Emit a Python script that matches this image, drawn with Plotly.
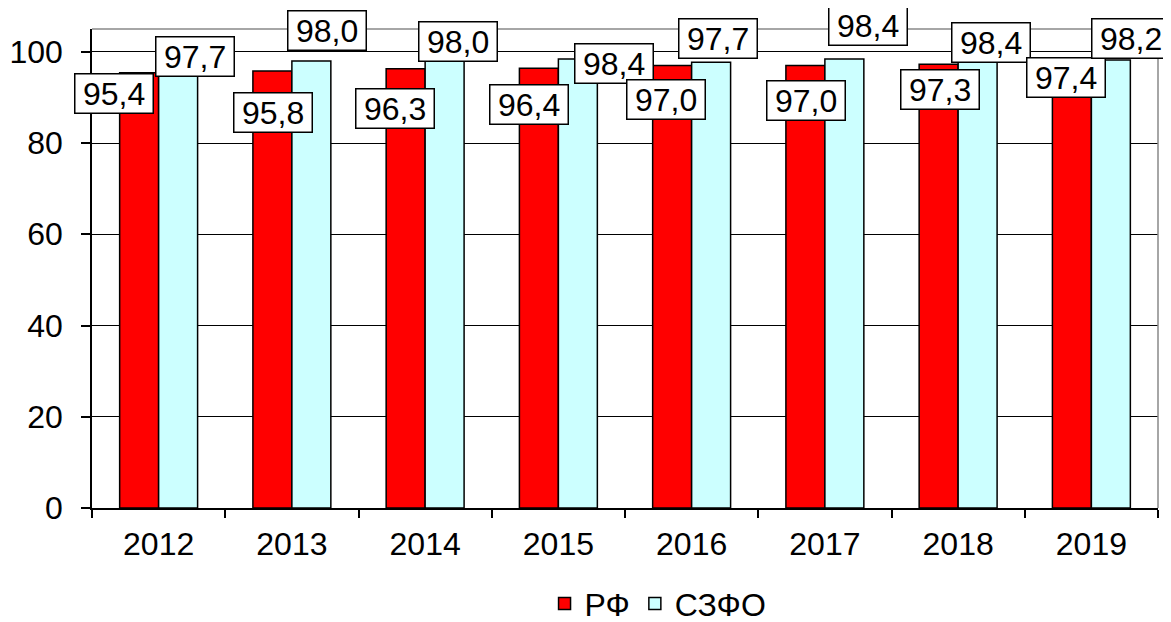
import plotly.graph_objects as go

years = ["2012", "2013", "2014", "2015", "2016", "2017", "2018", "2019"]
rf = [95.4, 95.8, 96.3, 96.4, 97.0, 97.0, 97.3, 97.4]
szfo = [97.7, 98.0, 98.0, 98.4, 97.7, 98.4, 98.4, 98.2]
series_names = ["РФ", "СЗФО"]
y_ticks = [0, 20, 40, 60, 80, 100]

# label box offsets (pixels) relative to bar top centre
rf_shift = [(-25, -21), (1, -42), (-11, -40), (-10, -36), (-6, -34), (1, -35), (1, -25), (-6, -14)]
sz_shift = [(17, 6), (16, 30), (13, 19), (36, -4), (7, 24), (24, 34), (13, 17), (20, 22)]

FONT = "Arial, Liberation Sans, sans-serif"
FS = 32

fig = go.Figure()
fig.add_trace(go.Bar(x=years, y=rf, name=series_names[0], marker=dict(color="#FF0000", line=dict(color="black", width=1.5)),
                     offsetgroup="a"))
fig.add_trace(go.Bar(x=years, y=szfo, name=series_names[1], marker=dict(color="#CCFFFF", line=dict(color="black", width=1.5)),
                     offsetgroup="b"))

annotations = []
for i in range(len(years)):
    for vals, shifts, off in ((rf, rf_shift, -19.5), (szfo, sz_shift, 19.5)):
        v = vals[i]
        dx, dy = shifts[i]
        annotations.append(dict(
            x=i, y=v, xref="x", yref="y", text="\u2009" + f"{v:.1f}".replace(".", ",") + "\u2009",
            showarrow=False, xshift=off + dx, yshift=dy,
            font=dict(family=FONT, size=FS, color="black"),
            bgcolor="white", bordercolor="black", borderwidth=1.5, borderpad=1,
            xanchor="center", yanchor="middle",
        ))

fig.update_layout(
    width=1171, height=622,
    margin=dict(l=84, r=21, t=21, b=122, autoexpand=False),
    plot_bgcolor="white", paper_bgcolor="white",
    bargap=0.415, bargroupgap=0,
    font=dict(family=FONT, size=FS, color="black"),
    legend=dict(orientation="h", x=0.531, y=-0.2, xanchor="center", yanchor="middle",
                font=dict(family=FONT, size=FS, color="black"), itemwidth=30, tracegroupgap=0),
    annotations=annotations,
    shapes=[
        dict(type="line", xref="paper", yref="paper", x0=0, x1=1, y0=1, y1=1, line=dict(color="#888888", width=1.5)),
        dict(type="line", xref="paper", yref="paper", x0=1, x1=1, y0=0, y1=1, line=dict(color="#888888", width=1.5)),
    ],
)
fig.update_xaxes(type="category", range=[-0.5, len(years) - 0.5], showline=True, linecolor="black", linewidth=1.5,
                 ticks="outside", ticklen=8, tickwidth=1.5, automargin=False,
                 tickcolor="black", tickson="boundaries", showgrid=False, tickangle=0,
                 tickfont=dict(family=FONT, size=FS, color="black"), ticklabelstandoff=7)
fig.update_yaxes(range=[0, 105], tickvals=y_ticks, showline=True, linecolor="black", linewidth=1.5,
                 ticks="outside", ticklen=9, tickwidth=1.5, tickcolor="black", automargin=False,
                 showgrid=True, gridcolor="black", gridwidth=1, zeroline=False,
                 tickfont=dict(family=FONT, size=FS, color="black"), ticklabelstandoff=12)

fig.write_html("out.html")
